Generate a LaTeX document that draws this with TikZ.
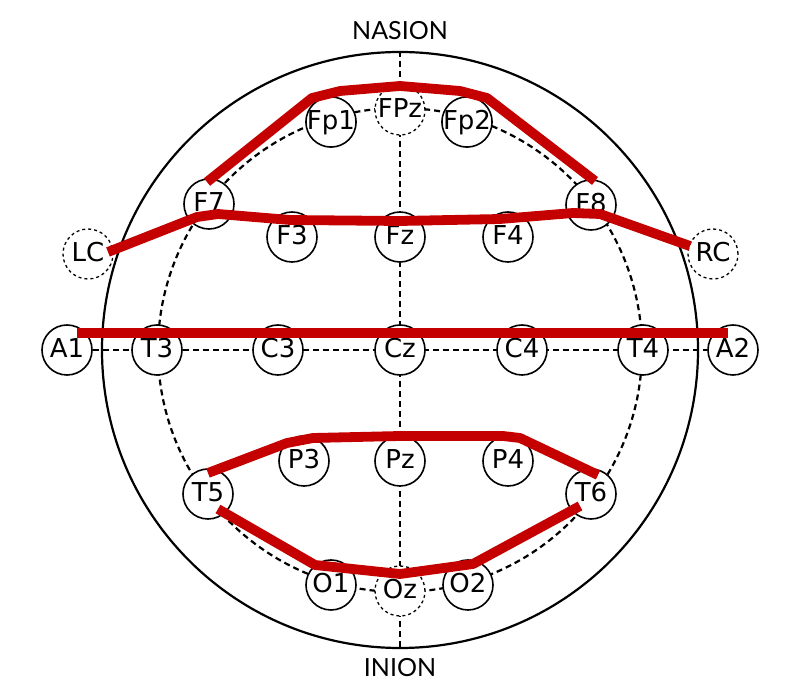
\documentclass[tikz,border=0pt]{standalone}
\usepackage{fontspec}
\setmainfont{DejaVu Sans}
\newfontfamily\landmarkfont{Lato}
\usetikzlibrary{backgrounds}

\definecolor{eegred}{RGB}{196,0,0}

\begin{document}
\begin{tikzpicture}[x=0.5pt, y=-0.5pt,
        electrode/.style = {circle, draw, fill=white, line width=0.8pt,
            minimum size=25pt, inner sep=0pt, text height=0.73em, text depth=0pt,
            font=\fontsize{13}{13}\selectfont},
        ghost/.style = {electrode, dash pattern=on 1.5pt off 1.5pt, line width=0.65pt},
        guide/.style = {line width=1.1pt, dash pattern=on 3pt off 2pt},
        montage/.style = {draw=eegred, line width=4.9pt, line join=round},
        landmark/.style = {font=\landmarkfont\fontsize{12.5}{12.5}\selectfont}]
            \useasboundingbox (0,0) rectangle (800,700);

            % Head outline and the 10-20 ring
            \node[circle, draw, line width=1.1pt, minimum size=298pt, inner sep=0pt] (head) at (400,350) {};
            \node[circle, draw, guide, minimum size=242pt, inner sep=0pt] (ring) at (400,350) {};

            % Electrodes
            \foreach \name/\x/\y in {Fp1/331/122, Fp2/467/122,
                F7/209/204, F3/292/237, Fz/400/237, F4/508/237, F8/591/205,
                A1/67/350, T3/157/350, C3/278/350, Cz/400/350, C4/522/350, T4/643/350, A2/733/350,
                T5/208/494, P3/304/461, Pz/400/461, P4/508/461, T6/591/494,
                O1/331/585, O2/468/585} {
                \node[electrode] (\name) at (\x,\y) {\name};
            }
            \foreach \name/\x/\y in {FPz/400/110, Oz/400/591, LC/88/254, RC/713/254} {
                \node[ghost] (\name) at (\x,\y) {\name};
            }

            % Midlines behind the electrodes
            \begin{scope}[on background layer]
                \draw[guide] (head.north) -- (head.south);
                \draw[guide] (A1) -- (A2);
            \end{scope}

            % Montage chains
            \draw[montage] ([shift={(-2,-22)}]F7.center) -- ([shift={(-19,-24)}]Fp1.center)
                -- ([shift={(9,-31)}]Fp1.center) -- ([shift={(0,-24)}]FPz.center)
                -- ([shift={(-7,-31)}]Fp2.center) -- ([shift={(20,-24)}]Fp2.center)
                -- ([shift={(4,-24)}]F8.center);
            \draw[montage] ([shift={(20,-2)}]LC.center) -- ([shift={(-12,13)}]F7.center)
                -- ([shift={(9,10)}]F7.center) -- ([shift={(-2,-17)}]F3.center)
                -- ([shift={(0,-16)}]Fz.center) -- ([shift={(-8,-18)}]F4.center)
                -- ([shift={(-18,8)}]F8.center) -- ([shift={(9,9)}]F8.center)
                -- ([shift={(-23,-8)}]RC.center);
            \draw[montage] ([shift={(10,-17)}]A1.center) -- ([shift={(-5,-17)}]A2.center);
            \draw[montage] ([shift={(0,-21)}]T5.center) -- ([shift={(-17,-18)}]P3.center)
                -- ([shift={(9,-23)}]P3.center) -- ([shift={(0,-25)}]Pz.center)
                -- ([shift={(-5,-25)}]P4.center) -- ([shift={(12,-23)}]P4.center)
                -- ([shift={(7,-19)}]T6.center);
            \draw[montage] ([shift={(10,15)}]T5.center) -- ([shift={(-16,-20)}]O1.center)
                -- ([shift={(0,-17)}]Oz.center) -- ([shift={(5,-21)}]O2.center)
                -- ([shift={(-11,12)}]T6.center);

            % Landmarks
            \node[landmark] (nasion) at (400,31) {NASION};
            \node[landmark] (inion) at (400,668) {INION};
        \end{tikzpicture}
\end{document}
